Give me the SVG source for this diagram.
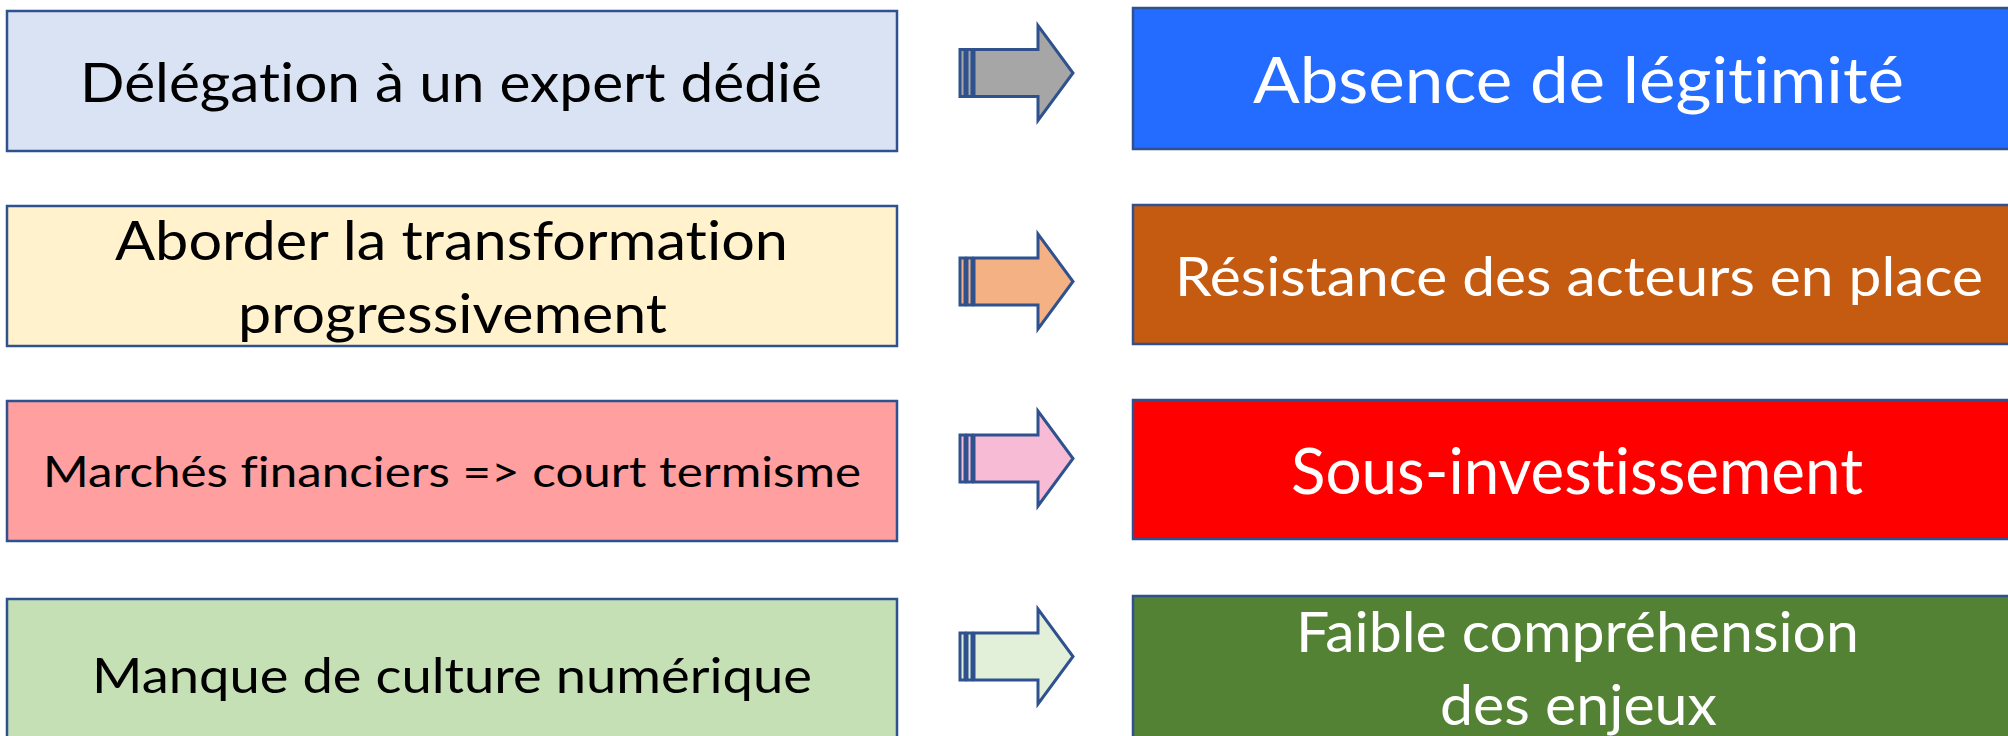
<svg xmlns="http://www.w3.org/2000/svg" xmlns:xlink="http://www.w3.org/1999/xlink" width="2008" height="736" viewBox="0 0 2008 736">
<style>
.box{stroke:#2F528F;stroke-width:2.5}
.arr{stroke:#2F528F;stroke-width:3;stroke-linejoin:miter}
.t{font-family:Lato,"Open Sans","Liberation Sans",sans-serif;text-anchor:middle;font-variant-ligatures:none;font-feature-settings:"liga" 0,"clig" 0,"dlig" 0}
.dark{fill:#000000}
.light{fill:#FFFFFF}
</style>
<defs>
<g id="striped-arrow">
<rect x="960" y="-23.5" width="5" height="47"/>
<rect x="967" y="-23.5" width="5" height="47"/>
<path d="M974,-23.5 H1038 V-47.5 L1073,0 L1038,47.5 V23.5 H974 Z"/>
</g>
</defs>
<rect width="2008" height="736" fill="#FFFFFF"/>

<g id="left1">
<rect class="box" x="7" y="11" width="890" height="140" fill="#DAE3F3"/>
<text class="t dark" x="451" y="102" font-size="54" textLength="742" lengthAdjust="spacingAndGlyphs">Délégation à un expert dédié</text>
</g>
<g id="left2">
<rect class="box" x="7" y="206" width="890" height="140" fill="#FFF2CC"/>
<text class="t dark" x="451.5" y="260" font-size="54" textLength="673" lengthAdjust="spacingAndGlyphs">Aborder la transformation</text>
<text class="t dark" x="452.5" y="333" font-size="54" textLength="429" lengthAdjust="spacingAndGlyphs">progressivement</text>
</g>
<g id="left3">
<rect class="box" x="7" y="401" width="890" height="140" fill="#FF9F9F"/>
<text class="t dark" x="452" y="487" font-size="42" textLength="818" lengthAdjust="spacingAndGlyphs">Marchés financiers =&gt; court termisme</text>
</g>
<g id="left4">
<rect class="box" x="7" y="599" width="890" height="140" fill="#C5E0B4"/>
<text class="t dark" x="452" y="693" font-size="49" textLength="720" lengthAdjust="spacingAndGlyphs">Manque de culture numérique</text>
</g>

<g id="right1">
<rect class="box" x="1133" y="8" width="890" height="141" fill="#236CFF"/>
<text class="t light" x="1578.5" y="103" font-size="64" textLength="651" lengthAdjust="spacingAndGlyphs">Absence de légitimité</text>
</g>
<g id="right2">
<rect class="box" x="1133" y="205" width="890" height="139" fill="#C55A11"/>
<text class="t light" x="1579" y="296" font-size="54" textLength="808" lengthAdjust="spacingAndGlyphs">Résistance des acteurs en place</text>
</g>
<g id="right3">
<rect class="box" x="1133" y="400" width="890" height="139" fill="#FF0000"/>
<text class="t light" x="1577" y="494" font-size="64" textLength="572" lengthAdjust="spacingAndGlyphs">Sous-investissement</text>
</g>
<g id="right4">
<rect class="box" x="1133" y="596" width="890" height="145" fill="#548235"/>
<text class="t light" x="1577.5" y="652" font-size="56" textLength="563" lengthAdjust="spacingAndGlyphs">Faible compréhension</text>
<text class="t light" x="1578.5" y="725" font-size="56" textLength="277" lengthAdjust="spacingAndGlyphs">des enjeux</text>
</g>

<g id="connectors">
<use xlink:href="#striped-arrow" class="arr" fill="#A6A6A6" transform="translate(0,73)"/>
<use xlink:href="#striped-arrow" class="arr" fill="#F4B183" transform="translate(0,281.5)"/>
<use xlink:href="#striped-arrow" class="arr" fill="#F8BBD6" transform="translate(0,458.5)"/>
<use xlink:href="#striped-arrow" class="arr" fill="#E2F0D9" transform="translate(0,656.5)"/>
</g>
</svg>
